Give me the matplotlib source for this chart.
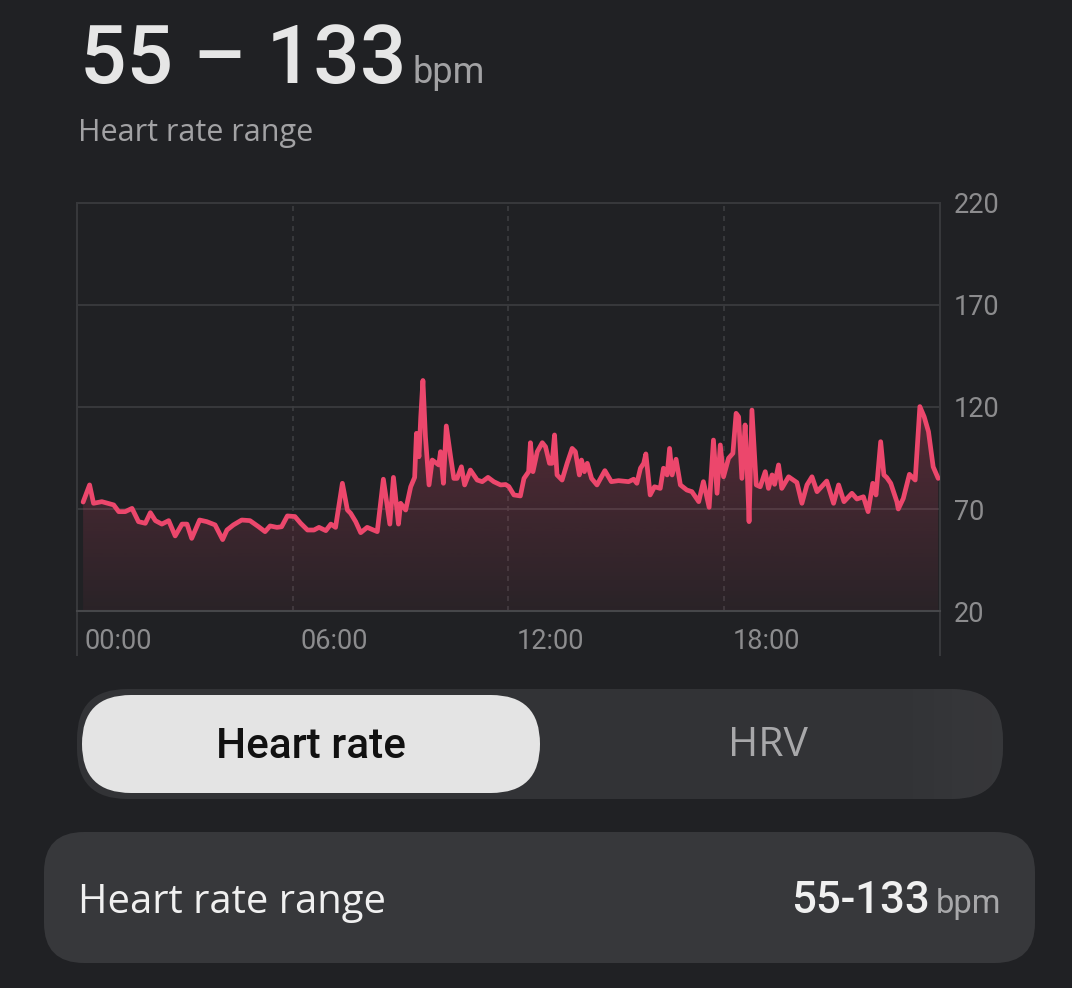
import numpy as np
import matplotlib.pyplot as plt
from matplotlib.patches import FancyBboxPatch, Polygon
from matplotlib.transforms import ScaledTranslation, blended_transform_factory

plt.rcParams['font.family'] = ['Roboto', 'DejaVu Sans']
ui_font = ['Open Sans', 'DejaVu Sans']

# heart rate readings over the day (hour of day, bpm)
hours = [0.17, 0.35, 0.46, 0.69, 1.02, 1.16, 1.34, 1.53, 1.71, 1.90, 2.04, 2.18, 2.36, 2.55,
         2.73, 2.92, 3.06, 3.19, 3.41, 3.61, 3.84, 4.05, 4.17, 4.35, 4.58, 4.81, 5.05, 5.23,
         5.37, 5.56, 5.69, 5.85, 6.06, 6.22, 6.41, 6.59, 6.73, 6.92, 7.06, 7.19, 7.38, 7.52,
         7.61, 7.75, 7.89, 8.07, 8.35, 8.52, 8.70, 8.80, 8.94, 9.00, 9.14, 9.28, 9.39, 9.44,
         9.51, 9.56, 9.62, 9.69, 9.79, 9.88, 10.06, 10.11, 10.19, 10.27, 10.39, 10.48, 10.57,
         10.69, 10.78, 10.94, 11.13, 11.27, 11.43, 11.59, 11.78, 11.92, 12.01, 12.15, 12.33,
         12.43, 12.56, 12.61, 12.68, 12.80, 12.94, 13.03, 13.14, 13.21, 13.28, 13.35, 13.49,
         13.63, 13.77, 13.86, 13.97, 14.03, 14.11, 14.19, 14.31, 14.46, 14.68, 14.86, 15.06,
         15.34, 15.48, 15.57, 15.67, 15.76, 15.82, 15.94, 16.06, 16.22, 16.31, 16.41, 16.48,
         16.55, 16.66, 16.78, 16.96, 17.10, 17.29, 17.42, 17.58, 17.70, 17.80, 17.89, 17.98,
         18.12, 18.24, 18.33, 18.40, 18.49, 18.58, 18.63, 18.69, 18.77, 18.89, 19.00, 19.14,
         19.23, 19.33, 19.40, 19.51, 19.60, 19.79, 20.02, 20.16, 20.30, 20.44, 20.58, 20.85,
         21.04, 21.18, 21.33, 21.55, 21.69, 21.87, 22.00, 22.13, 22.22, 22.35, 22.44, 22.52,
         22.63, 22.80, 22.84, 22.98, 23.15, 23.31, 23.44, 23.56, 23.68, 23.81, 23.95]
bpm = [73.4, 81.8, 72.8, 73.6, 72.0, 68.7, 68.7, 70.3, 63.8, 63.0, 68.2, 64.3, 62.6, 64.3,
       56.8, 62.6, 62.6, 55.6, 64.6, 63.8, 62.2, 55.0, 59.7, 62.2, 64.6, 64.3, 61.3, 58.9,
       61.7, 61.0, 61.3, 66.6, 66.3, 63.0, 59.7, 59.7, 61.0, 59.4, 62.6, 61.0, 82.6, 69.5,
       67.9, 63.8, 58.4, 61.0, 58.9, 84.6, 62.6, 85.5, 62.6, 72.8, 69.5, 80.9, 85.5, 107.1,
       95.6, 115.2, 133.0, 105.4, 81.8, 94.0, 91.6, 98.1, 82.6, 110.7, 95.6, 85.0, 85.0,
       90.7, 81.8, 89.1, 84.2, 83.4, 85.5, 83.4, 81.8, 82.0, 81.0, 76.9, 76.4,
       85.0, 88.3, 102.5, 88.3, 98.1, 102.5, 100.5, 92.4, 92.4, 106.3, 86.7, 84.2,
       92.4, 99.7, 98.1, 86.7, 94.0, 88.3, 92.4, 85.0, 81.8, 88.8, 83.4, 83.9,
       83.4, 84.6, 82.6, 90.0, 92.4, 97.0, 76.9, 80.9, 80.1, 90.0, 86.7, 99.7,
       86.7, 94.4, 81.8, 79.3, 78.5, 73.6, 83.4, 70.8, 103.8, 77.7, 101.4, 85.8,
       94.9, 97.3, 116.9, 115.2, 85.0, 111.2, 93.2, 63.8, 118.5, 81.8, 80.9, 88.3,
       80.1, 86.7, 82.1, 91.6, 80.1, 85.8, 83.0, 72.8, 81.8, 85.8, 78.5, 83.7,
       72.8, 81.8, 73.6, 77.7, 74.9, 76.0, 68.7, 82.6, 76.9, 103.0, 86.7, 85.4,
       82.6, 73.6, 70.0, 75.2, 87.0, 84.2, 120.2, 115.2, 107.9, 90.7, 85.0]

y_ticks = [20, 70, 120, 170, 220]
x_ticks = [0, 6, 12, 18]
x_labels = ['00:00', '06:00', '12:00', '18:00']
hr_min, hr_max = 55, 133

bg = '#202124'
line_col = '#ec476c'
grid_col = '#37383b'
W, H = 1072, 988

fig = plt.figure(figsize=(W / 100, H / 100), dpi=100, facecolor=bg)

# overlay in pixel coordinates (origin top-left) for the app ui parts
ui = fig.add_axes([0, 0, 1, 1], facecolor='none')
ui.set_xlim(0, W)
ui.set_ylim(H, 0)
ui.axis('off')

# chart
ax = fig.add_axes([77 / W, (H - 611) / H, (940 - 77) / W, (611 - 203) / H], facecolor='none')
ax.set_xlim(0, 24)
ax.set_ylim(20, 220)

for v in [70, 120, 170]:
    ax.axhline(v, color=grid_col, lw=1.5, zorder=1)
for v in [6, 12, 18]:
    ax.axvline(v, color='#3c3d40', lw=1.2, ls=(0, (3, 3)), zorder=1)
for side in ['top', 'left', 'right']:
    ax.spines[side].set_color(grid_col)
    ax.spines[side].set_linewidth(1.5)
ax.spines['bottom'].set_color('#46474a')
ax.spines['bottom'].set_linewidth(1.5)

# border lines continue below the plot beside the time labels
tr = blended_transform_factory(ax.transData, ax.transAxes)
for v in [0, 24]:
    ax.plot([v, v], [0, -0.108], transform=tr, color=grid_col, lw=1.5, clip_on=False)

# gradient area under the curve
grad = np.linspace(0, 1, 256).reshape(-1, 1)
rgba = np.zeros((256, 1, 4))
rgba[..., 0] = 0xec / 255
rgba[..., 1] = 0x47 / 255
rgba[..., 2] = 0x6c / 255
rgba[..., 3] = 0.05 + 0.24 * grad
img = ax.imshow(rgba, extent=[0, 24, 20, hr_max], origin='lower', aspect='auto', zorder=2)
poly = Polygon(list(zip(hours, bpm)) + [(hours[-1], 20), (hours[0], 20)],
               closed=True, facecolor='none', edgecolor='none', transform=ax.transData)
ax.add_patch(poly)
img.set_clip_path(poly)
ax.set_xlim(0, 24)
ax.set_ylim(20, 220)

ax.plot(hours, bpm, color=line_col, lw=3.4, solid_joinstyle='round',
        solid_capstyle='round', zorder=3)

ax.yaxis.tick_right()
ax.set_yticks(y_ticks)
ax.set_yticklabels([str(v) for v in y_ticks])
ax.set_xticks(x_ticks)
ax.set_xticklabels(x_labels)
ax.tick_params(axis='both', length=0, labelsize=19.5, labelcolor='#8c8c8e')
ax.tick_params(axis='y', pad=10)
ax.tick_params(axis='x', pad=12)
offset = ScaledTranslation(8 / 100, 0, fig.dpi_scale_trans)
for lab in ax.get_xticklabels():
    lab.set_horizontalalignment('left')
    lab.set_transform(lab.get_transform() + offset)

# header
big = ui.text(80, 83, f'{hr_min} \u2013 {hr_max}', fontsize=59, color='#e6e6e6',
              fontweight='medium', va='baseline', ha='left')
ui.text(78, 141, 'Heart rate range', fontsize=22, color='#a2a2a4', va='baseline', ha='left',
        family=ui_font)
fig.canvas.draw()
bb = big.get_window_extent().transformed(ui.transData.inverted())
ui.text(max(bb.x0, bb.x1) + 6, 83, 'bpm', fontsize=26, color='#a2a2a4', va='baseline', ha='left')

# toggle, with a faint light sheen at its right end
ui.add_patch(FancyBboxPatch((77, 689), 926, 110, boxstyle='round,pad=0,rounding_size=50',
                            facecolor='#323336', edgecolor='none'))
sheen = FancyBboxPatch((77, 689), 926, 110, boxstyle='round,pad=0,rounding_size=50',
                       facecolor='none', edgecolor='none')
ui.add_patch(sheen)
sh = np.zeros((1, 256, 4))
sh[..., :3] = 1.0
sh[..., 3] = np.clip((np.linspace(0, 1, 256) - 0.86) / 0.14, 0, 1) * 0.025
sheen_img = ui.imshow(sh, extent=[77, 1003, 799, 689], aspect='auto', zorder=1.5)
sheen_img.set_clip_path(sheen)
ui.set_xlim(0, W)
ui.set_ylim(H, 0)
ui.add_patch(FancyBboxPatch((82, 695), 458, 98, boxstyle='round,pad=0,rounding_size=49',
                            facecolor='#e4e4e4', edgecolor='none', zorder=2))
ui.text(311, 746, 'Heart rate', fontsize=30.5, color='#111111', fontweight='medium',
        va='center', ha='center', zorder=3)
ui.text(768, 746, 'HRV', fontsize=29.5, color='#a8a8aa', va='center', ha='center',
        family=ui_font, zorder=3)

# summary card
ui.add_patch(FancyBboxPatch((44, 832), 991, 131, boxstyle='round,pad=0,rounding_size=40',
                            facecolor='#37383b', edgecolor='none'))
ui.text(78, 913, 'Heart rate range', fontsize=28.8, color='#f0f0f0', va='baseline', ha='left',
        family=ui_font)
ui.text(1001, 913, 'bpm', fontsize=23.5, color='#a8a8aa', va='baseline', ha='right')
ui.text(930, 913, f'{hr_min}-{hr_max}', fontsize=31.5, color='#f0f0f0', fontweight='medium',
        va='baseline', ha='right')

fig.savefig('out.png', dpi=100, facecolor=bg)
